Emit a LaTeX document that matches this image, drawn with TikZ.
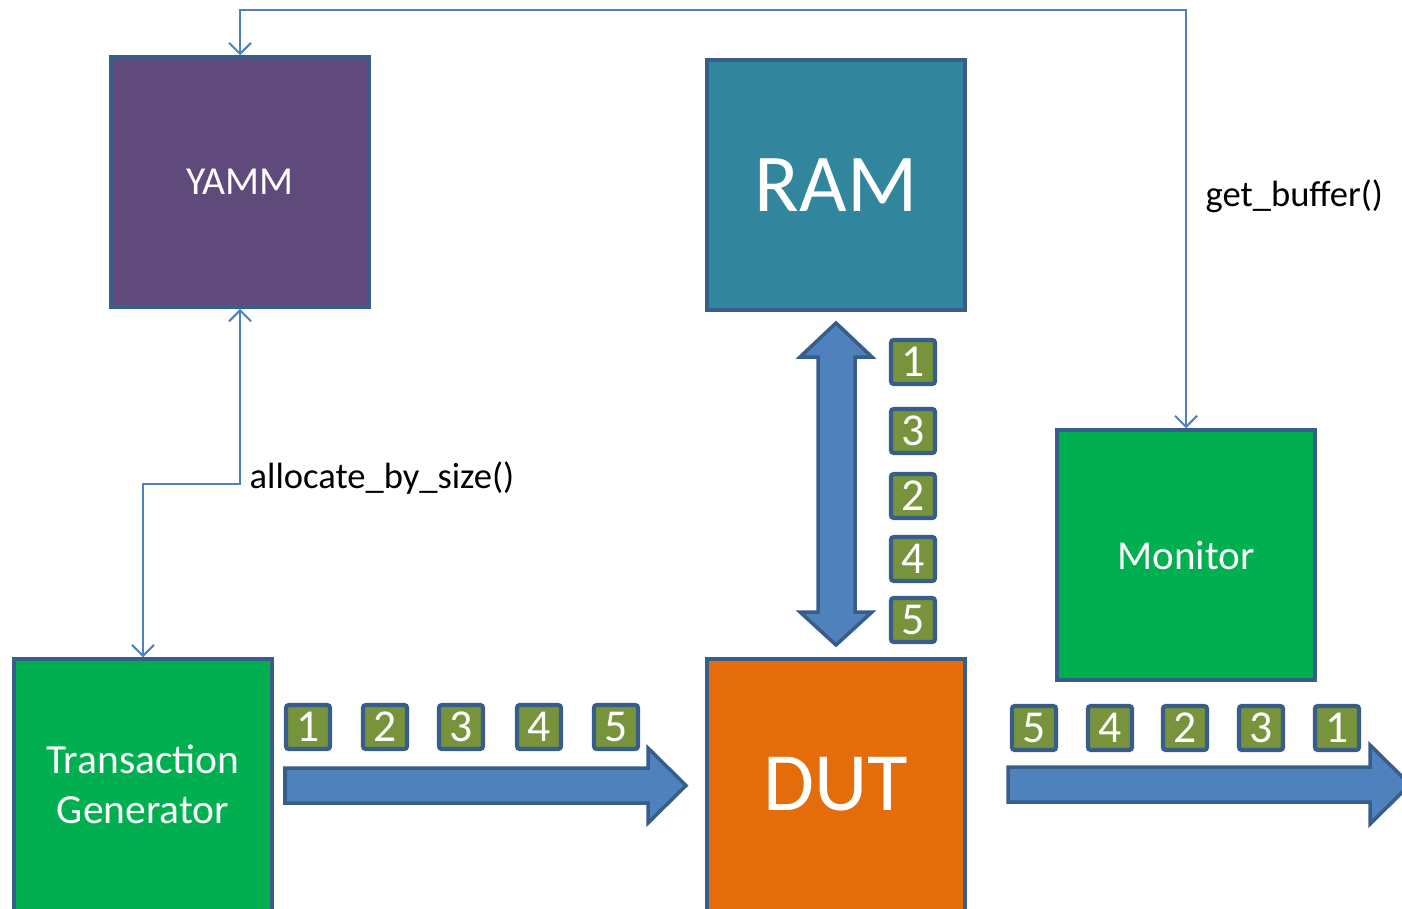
\documentclass[tikz,border=0pt]{standalone}
\usepackage{fontspec}
\setmainfont{Carlito}
\usetikzlibrary{arrows.meta}
\definecolor{frameblue}{RGB}{56,93,138}
\definecolor{linkblue}{RGB}{79,129,189}
\definecolor{yammpurple}{RGB}{96,74,123}
\definecolor{ramteal}{RGB}{49,133,156}
\definecolor{blockgreen}{RGB}{0,176,80}
\definecolor{dutorange}{RGB}{228,108,10}
\definecolor{itemolive}{RGB}{119,147,60}
\tikzset{
  block/.style={draw=frameblue, line width=1pt, minimum width=25.8mm, minimum height=25.0mm,
                text=white, align=center, inner sep=0pt},
  cutblock/.style={block, minimum height=27mm, text depth=2mm},
  item/.style={draw=frameblue, fill=itemolive, line width=1.2pt, rounded corners=0.8pt,
               minimum size=4.4mm, inner sep=0pt, text=white, font=\fontsize{13}{13}\selectfont},
  link/.style={draw=linkblue, line width=0.6pt},
  tip/.tip={Straight Barb[length=1.1mm, width=2.2mm]},
  fatarrow/.style={draw=frameblue, fill=linkblue, line width=1pt, line join=miter},
  callname/.style={anchor=west, inner sep=0pt, font=\fontsize{10.4}{12}\selectfont}
}

\begin{document}
\begin{tikzpicture}[x=0.1mm, y=-0.1mm]
    \useasboundingbox (0,0) rectangle (1402,908);
    % Blocks
    \node[block, fill=yammpurple, font=\fontsize{11.3}{13}\selectfont] (yamm) at (240,182) {YAMM};
    \node[block, fill=ramteal, font=\fontsize{23.4}{26}\selectfont] (ram) at (836,185) {RAM};
    \node[block, fill=blockgreen, font=\fontsize{11.7}{14}\selectfont] (monitor) at (1186,555) {Monitor};
    \node[cutblock, fill=blockgreen, font=\fontsize{11.8}{14.2}\selectfont] (tgen) at (143,794) {Transaction\\Generator};
    \node[cutblock, fill=dutorange, font=\fontsize{23.6}{26}\selectfont] (dut) at (836,794) {DUT};
    % Method calls
    \coordinate (topturn) at (1186,10);
    \coordinate (leftturn) at (143,484);
    \draw[link, tip-tip] (monitor.north) -- (topturn) -| (yamm.north);
    \draw[link, tip-tip] (yamm.south) |- (leftturn) -- (tgen.north);
    \node[callname] (alloc) at (249,478) {allocate\_by\_size()};
    \node[callname] (getbuf) at (1205,196) {get\_buffer()};
    % Transaction flow
    \draw[fatarrow] (285,768) -- (648,768) -- (648,748) -- (686,785.5) -- (648,823) -- (648,803) -- (285,803) -- cycle;
    \draw[fatarrow] (1008,767) -- (1370,767) -- (1370,745) -- (1410,784.5) -- (1370,824) -- (1370,802) -- (1008,802) -- cycle;
    \draw[fatarrow] (818,357) -- (800,357) -- (836,323) -- (872,357) -- (855,357)
                 -- (855,612) -- (872,612) -- (836,645) -- (800,612) -- (818,612) -- cycle;
    % Items
    \foreach \n/\x in {1/308,2/385,3/461,4/539,5/616}
        \node[item] (in\n) at (\x,727) {\n};
    \foreach \n/\x in {5/1034,4/1110,2/1185,3/1261,1/1337}
        \node[item] (out\n) at (\x,728) {\n};
    \foreach \n/\y in {1/362,3/431,2/496,4/559,5/620}
        \node[item] (mem\n) at (913,\y) {\n};
\end{tikzpicture}
\end{document}
